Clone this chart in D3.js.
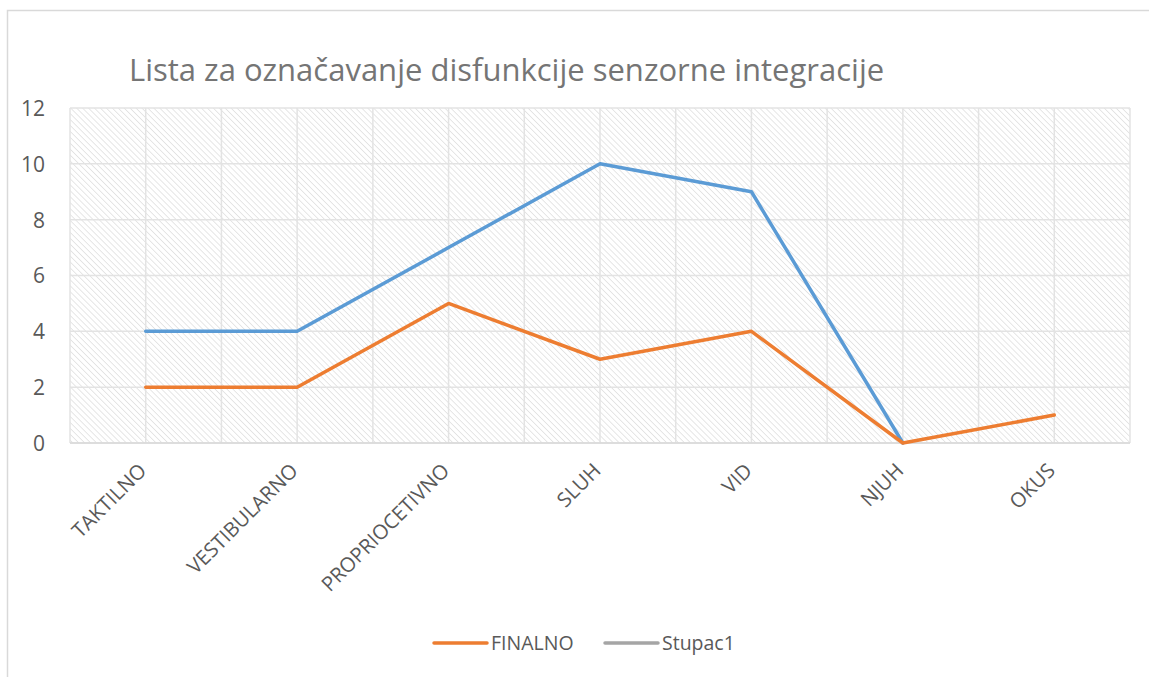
<!DOCTYPE html>
<html>
<head>
<meta charset="utf-8">
<script src="https://cdn.jsdelivr.net/npm/d3@7"></script>
<style>
    body { margin: 0; background: #fff; }
    text { font-family: "Open Sans", "Noto Sans", sans-serif; }
</style>
</head>
<body>
<div id="chart"></div>
<script>
const categories = ["TAKTILNO", "VESTIBULARNO", "PROPRIOCETIVNO", "SLUH", "VID", "NJUH", "OKUS"];
const finalnoValues = [2, 2, 5, 3, 4, 0, 1];
const blueValues = [4, 4, 7, 10, 9, 0, null];
const yTicks = [0, 2, 4, 6, 8, 10, 12];
const legendNames = ["FINALNO", "Stupac1"];

const width = 1149;
const height = 677;
const margin = {top: 108, right: 19, bottom: 234, left: 70};

const svg = d3.select("#chart")
    .append("svg")
    .attr("width", width)
    .attr("height", height);

// hatch pattern for plot background
const defs = svg.append("defs");
defs.append("pattern")
    .attr("id", "hatch")
    .attr("patternUnits", "userSpaceOnUse")
    .attr("width", 4.2)
    .attr("height", 4.2)
    .attr("patternTransform", "rotate(-45)")
    .append("line")
    .attr("x1", 0).attr("y1", 0)
    .attr("x2", 0).attr("y2", 4.2)
    .attr("stroke", "#d6d6d6")
    .attr("stroke-width", 1.2);

// outer chart border (runs off the picture right and bottom)
svg.append("rect")
    .attr("x", 7.5)
    .attr("y", 10.5)
    .attr("width", width + 20)
    .attr("height", height + 20)
    .attr("fill", "none")
    .attr("stroke", "#d9d9d9")
    .attr("stroke-width", 1.5);

svg.append("text")
    .attr("x", 129)
    .attr("y", 81)
    .attr("font-size", "31px")
    .attr("fill", "#757575")
    .text("Lista za označavanje disfunkcije senzorne integracije");

const plotW = width - margin.left - margin.right;
const plotH = height - margin.top - margin.bottom;

const g = svg.append("g")
    .attr("transform", `translate(${margin.left},${margin.top})`);

const x = d3.scalePoint()
    .domain(categories)
    .range([0, plotW])
    .padding(0.5);

const y = d3.scaleLinear()
    .domain([0, 12])
    .range([plotH, 0]);

g.append("rect")
    .attr("width", plotW)
    .attr("height", plotH)
    .attr("fill", "url(#hatch)");

// horizontal gridlines
g.selectAll(".hgrid")
    .data(yTicks)
    .enter()
    .append("line")
    .attr("x1", 0).attr("x2", plotW)
    .attr("y1", d => y(d)).attr("y2", d => y(d))
    .attr("stroke", "#e3e3e3")
    .attr("stroke-width", 1.5);

// vertical gridlines at categories and between them
const step = x.step();
const vLines = d3.range(0, categories.length * 2 + 1).map(i => i * step / 2);
g.selectAll(".vgrid")
    .data(vLines)
    .enter()
    .append("line")
    .attr("x1", d => d).attr("x2", d => d)
    .attr("y1", 0).attr("y2", plotH)
    .attr("stroke", "#e3e3e3")
    .attr("stroke-width", 1.5);

g.append("line")
    .attr("x1", 0).attr("x2", plotW)
    .attr("y1", plotH).attr("y2", plotH)
    .attr("stroke", "#d9d9d9")
    .attr("stroke-width", 1.5);

// y axis labels
const yAxis = g.append("g")
    .attr("transform", "translate(-22,0)")
    .call(d3.axisLeft(y).tickValues(yTicks).tickSize(0));
yAxis.select(".domain").remove();
yAxis.attr("font-size", null).attr("font-family", null);
yAxis.selectAll("text")
    .style("font-size", "21px")
    .style("fill", "#595959")
    .attr("dy", "0.35em");

// x axis labels, rotated
g.selectAll(".xlabel")
    .data(categories)
    .enter()
    .append("text")
    .attr("transform", d => `translate(${x(d) + 2},${plotH + 29}) rotate(-45)`)
    .attr("text-anchor", "end")
    .attr("font-size", "20.3px")
    .attr("fill", "#595959")
    .text(d => d);

const line = d3.line()
    .defined(d => d[1] !== null)
    .x(d => x(d[0]))
    .y(d => y(d[1]));

g.append("path")
    .datum(categories.map((c, i) => [c, blueValues[i]]))
    .attr("d", line)
    .attr("fill", "none")
    .attr("stroke", "#5B9BD5")
    .attr("stroke-width", 3.5)
    .attr("stroke-linejoin", "round")
    .attr("stroke-linecap", "round");

g.append("path")
    .datum(categories.map((c, i) => [c, finalnoValues[i]]))
    .attr("d", line)
    .attr("fill", "none")
    .attr("stroke", "#ED7D31")
    .attr("stroke-width", 3.5)
    .attr("stroke-linejoin", "round")
    .attr("stroke-linecap", "round");

// legend
const legendColors = ["#ED7D31", "#A5A5A5"];
const legendX = [434, 605];
const legend = svg.selectAll(".legend")
    .data(legendNames)
    .enter()
    .append("g")
    .attr("transform", (d, i) => `translate(${legendX[i]},643)`);

legend.append("line")
    .attr("x1", 0).attr("x2", 53)
    .attr("y1", 0).attr("y2", 0)
    .attr("stroke", (d, i) => legendColors[i])
    .attr("stroke-width", 3.5)
    .attr("stroke-linecap", "round");

legend.append("text")
    .attr("x", 57)
    .attr("y", 7)
    .attr("font-size", "19.5px")
    .attr("fill", "#595959")
    .text(d => d);
</script>
</body>
</html>
